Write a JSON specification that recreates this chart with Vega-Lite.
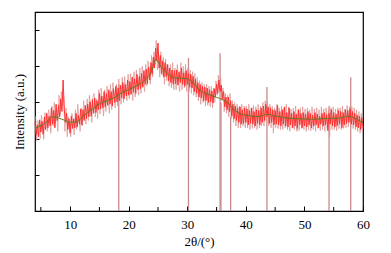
{
  "$schema": "https://vega.github.io/schema/vega-lite/v6.json",
  "width": 328,
  "height": 199,
  "autosize": "none",
  "padding": {"left": 35, "top": 12, "right": 28, "bottom": 42},
  "background": "white",
  "config": {
    "view": {"stroke": "black", "strokeWidth": 1.2},
    "font": "Liberation Serif",
    "axis": {"labelFont": "Liberation Serif", "titleFont": "Liberation Serif", "grid": false, "domain": false, "tickColor": "black", "labelColor": "black", "titleColor": "black", "titleFontWeight": "normal"}
  },
  "datasets": {
    "red": [
      {"t":4.0,"i":2.45},{"t":4.2,"i":2.10},{"t":4.4,"i":2.38},{"t":4.6,"i":2.05},{"t":4.8,"i":2.52},
      {"t":5.0,"i":2.18},{"t":5.2,"i":2.48},{"t":5.4,"i":2.12},{"t":5.6,"i":2.60},{"t":5.8,"i":2.25},
      {"t":6.0,"i":2.70},{"t":6.2,"i":2.30},{"t":6.4,"i":2.62},{"t":6.6,"i":2.35},{"t":6.8,"i":2.85},
      {"t":7.0,"i":2.40},{"t":7.2,"i":2.78},{"t":7.4,"i":2.30},{"t":7.6,"i":2.95},{"t":7.8,"i":2.50},
      {"t":8.0,"i":2.92},{"t":8.2,"i":2.60},{"t":8.4,"i":3.10},{"t":8.6,"i":2.75},{"t":8.8,"i":3.62},
      {"t":9.0,"i":2.80},{"t":9.2,"i":2.45},{"t":9.4,"i":2.70},{"t":9.6,"i":2.25},{"t":9.8,"i":2.55},
      {"t":10.0,"i":2.15},{"t":10.2,"i":2.62},{"t":10.4,"i":2.28},{"t":10.6,"i":2.55},{"t":10.8,"i":2.30},
      {"t":11.0,"i":2.70},{"t":11.2,"i":2.32},{"t":11.4,"i":2.65},{"t":11.6,"i":2.40},{"t":11.8,"i":2.82},
      {"t":12.0,"i":2.38},{"t":12.2,"i":2.80},{"t":12.4,"i":2.50},{"t":12.6,"i":2.92},{"t":12.8,"i":2.55},
      {"t":13.0,"i":2.95},{"t":13.2,"i":2.60},{"t":13.4,"i":3.02},{"t":13.6,"i":2.62},{"t":13.8,"i":3.08},
      {"t":14.0,"i":2.70},{"t":14.2,"i":3.12},{"t":14.4,"i":2.72},{"t":14.6,"i":3.05},{"t":14.8,"i":2.80},
      {"t":15.0,"i":3.25},{"t":15.2,"i":2.82},{"t":15.4,"i":3.18},{"t":15.6,"i":2.85},{"t":15.8,"i":3.30},
      {"t":16.0,"i":2.88},{"t":16.2,"i":3.25},{"t":16.4,"i":2.92},{"t":16.6,"i":3.35},{"t":16.8,"i":2.95},
      {"t":17.0,"i":3.30},{"t":17.2,"i":2.90},{"t":17.4,"i":3.38},{"t":17.6,"i":3.00},{"t":17.8,"i":3.45},
      {"t":18.0,"i":3.02},{"t":18.2,"i":3.40},{"t":18.4,"i":3.05},{"t":18.6,"i":3.48},{"t":18.8,"i":3.12},
      {"t":19.0,"i":3.55},{"t":19.2,"i":3.10},{"t":19.4,"i":3.50},{"t":19.6,"i":3.18},{"t":19.8,"i":3.62},
      {"t":20.0,"i":3.20},{"t":20.2,"i":3.58},{"t":20.4,"i":3.22},{"t":20.6,"i":3.70},{"t":20.8,"i":3.28},
      {"t":21.0,"i":3.65},{"t":21.2,"i":3.25},{"t":21.4,"i":3.78},{"t":21.6,"i":3.35},{"t":21.8,"i":3.72},
      {"t":22.0,"i":3.38},{"t":22.2,"i":3.80},{"t":22.4,"i":3.42},{"t":22.6,"i":3.88},{"t":22.8,"i":3.50},
      {"t":23.0,"i":3.92},{"t":23.2,"i":3.52},{"t":23.4,"i":3.98},{"t":23.6,"i":3.62},{"t":23.8,"i":4.10},
      {"t":24.0,"i":3.78},{"t":24.2,"i":4.25},{"t":24.4,"i":3.95},{"t":24.6,"i":4.50},{"t":24.8,"i":4.15},
      {"t":25.0,"i":4.64},{"t":25.2,"i":3.95},{"t":25.4,"i":4.30},{"t":25.6,"i":3.80},{"t":25.8,"i":4.15},
      {"t":26.0,"i":3.70},{"t":26.2,"i":4.10},{"t":26.4,"i":3.72},{"t":26.6,"i":4.05},{"t":26.8,"i":3.60},
      {"t":27.0,"i":3.95},{"t":27.2,"i":3.55},{"t":27.4,"i":3.90},{"t":27.6,"i":3.50},{"t":27.8,"i":3.88},
      {"t":28.0,"i":3.52},{"t":28.2,"i":3.90},{"t":28.4,"i":3.48},{"t":28.6,"i":3.85},{"t":28.8,"i":3.55},
      {"t":29.0,"i":3.95},{"t":29.2,"i":3.50},{"t":29.4,"i":3.82},{"t":29.6,"i":3.45},{"t":29.8,"i":3.88},
      {"t":30.0,"i":3.50},{"t":30.2,"i":3.80},{"t":30.4,"i":3.42},{"t":30.6,"i":3.78},{"t":30.8,"i":3.40},
      {"t":31.0,"i":3.72},{"t":31.2,"i":3.30},{"t":31.4,"i":3.65},{"t":31.6,"i":3.25},{"t":31.8,"i":3.55},
      {"t":32.0,"i":3.15},{"t":32.2,"i":3.50},{"t":32.4,"i":3.12},{"t":32.6,"i":3.45},{"t":32.8,"i":3.05},
      {"t":33.0,"i":3.42},{"t":33.2,"i":3.05},{"t":33.4,"i":3.40},{"t":33.6,"i":3.00},{"t":33.8,"i":3.35},
      {"t":34.0,"i":3.02},{"t":34.2,"i":3.32},{"t":34.4,"i":2.98},{"t":34.6,"i":3.38},{"t":34.8,"i":3.15},
      {"t":35.0,"i":3.50},{"t":35.2,"i":3.25},{"t":35.4,"i":3.62},{"t":35.6,"i":3.30},{"t":35.8,"i":3.48},
      {"t":36.0,"i":3.10},{"t":36.2,"i":3.30},{"t":36.4,"i":2.88},{"t":36.6,"i":3.15},{"t":36.8,"i":2.80},
      {"t":37.0,"i":3.15},{"t":37.2,"i":2.75},{"t":37.4,"i":3.05},{"t":37.6,"i":2.62},{"t":37.8,"i":2.95},
      {"t":38.0,"i":2.55},{"t":38.2,"i":2.90},{"t":38.4,"i":2.50},{"t":38.6,"i":2.85},{"t":38.8,"i":2.45},
      {"t":39.0,"i":2.88},{"t":39.2,"i":2.40},{"t":39.4,"i":2.80},{"t":39.6,"i":2.42},{"t":39.8,"i":2.85},
      {"t":40.0,"i":2.45},{"t":40.2,"i":2.82},{"t":40.4,"i":2.38},{"t":40.6,"i":2.78},{"t":40.8,"i":2.42},
      {"t":41.0,"i":2.85},{"t":41.2,"i":2.40},{"t":41.4,"i":2.75},{"t":41.6,"i":2.35},{"t":41.8,"i":2.80},
      {"t":42.0,"i":2.42},{"t":42.2,"i":2.78},{"t":42.4,"i":2.38},{"t":42.6,"i":2.85},{"t":42.8,"i":2.45},
      {"t":43.0,"i":2.90},{"t":43.2,"i":2.50},{"t":43.4,"i":2.95},{"t":43.6,"i":2.60},{"t":43.8,"i":2.88},
      {"t":44.0,"i":2.42},{"t":44.2,"i":2.85},{"t":44.4,"i":2.45},{"t":44.6,"i":2.80},{"t":44.8,"i":2.38},
      {"t":45.0,"i":2.78},{"t":45.2,"i":2.40},{"t":45.4,"i":2.92},{"t":45.6,"i":2.38},{"t":45.8,"i":2.75},
      {"t":46.0,"i":2.35},{"t":46.2,"i":2.80},{"t":46.4,"i":2.40},{"t":46.6,"i":2.88},{"t":46.8,"i":2.35},
      {"t":47.0,"i":2.72},{"t":47.2,"i":2.32},{"t":47.4,"i":2.85},{"t":47.6,"i":2.38},{"t":47.8,"i":2.70},
      {"t":48.0,"i":2.30},{"t":48.2,"i":2.75},{"t":48.4,"i":2.35},{"t":48.6,"i":2.68},{"t":48.8,"i":2.28},
      {"t":49.0,"i":2.80},{"t":49.2,"i":2.38},{"t":49.4,"i":2.70},{"t":49.6,"i":2.30},{"t":49.8,"i":2.72},
      {"t":50.0,"i":2.35},{"t":50.2,"i":2.68},{"t":50.4,"i":2.32},{"t":50.6,"i":2.75},{"t":50.8,"i":2.38},
      {"t":51.0,"i":2.70},{"t":51.2,"i":2.30},{"t":51.4,"i":2.65},{"t":51.6,"i":2.35},{"t":51.8,"i":2.72},
      {"t":52.0,"i":2.38},{"t":52.2,"i":2.68},{"t":52.4,"i":2.30},{"t":52.6,"i":2.62},{"t":52.8,"i":2.40},
      {"t":53.0,"i":2.70},{"t":53.2,"i":2.35},{"t":53.4,"i":2.72},{"t":53.6,"i":2.38},{"t":53.8,"i":2.66},
      {"t":54.0,"i":2.22},{"t":54.2,"i":2.70},{"t":54.4,"i":2.40},{"t":54.6,"i":2.80},{"t":54.8,"i":2.36},
      {"t":55.0,"i":2.72},{"t":55.2,"i":2.32},{"t":55.4,"i":2.68},{"t":55.6,"i":2.36},{"t":55.8,"i":2.78},
      {"t":56.0,"i":2.40},{"t":56.2,"i":2.75},{"t":56.4,"i":2.30},{"t":56.6,"i":2.72},{"t":56.8,"i":2.38},
      {"t":57.0,"i":2.80},{"t":57.2,"i":2.42},{"t":57.4,"i":2.78},{"t":57.6,"i":2.45},{"t":57.8,"i":2.82},
      {"t":58.0,"i":2.40},{"t":58.2,"i":2.75},{"t":58.4,"i":2.38},{"t":58.6,"i":2.70},{"t":58.8,"i":2.32},
      {"t":59.0,"i":2.65},{"t":59.2,"i":2.30},{"t":59.4,"i":2.62},{"t":59.6,"i":2.25},{"t":59.8,"i":2.58},
      {"t":60.0,"i":2.30}
    ],
    "pink": [
      {"t":4.1,"i":2.62},{"t":4.3,"i":1.95},{"t":4.5,"i":2.50},{"t":4.7,"i":2.20},{"t":4.9,"i":2.00},
      {"t":5.1,"i":2.65},{"t":5.3,"i":2.30},{"t":5.5,"i":1.98},{"t":5.7,"i":2.72},{"t":5.9,"i":2.45},
      {"t":6.1,"i":2.20},{"t":6.3,"i":2.80},{"t":6.5,"i":2.55},{"t":6.7,"i":2.15},{"t":6.9,"i":2.90},
      {"t":7.1,"i":2.35},{"t":7.3,"i":3.00},{"t":7.5,"i":2.42},{"t":7.7,"i":2.70},{"t":7.9,"i":2.20},
      {"t":8.1,"i":3.20},{"t":8.3,"i":2.65},{"t":8.5,"i":3.30},{"t":8.7,"i":2.90},{"t":8.9,"i":3.15},
      {"t":9.1,"i":2.20},{"t":9.3,"i":2.85},{"t":9.5,"i":2.05},{"t":9.7,"i":2.60},{"t":9.9,"i":2.30},
      {"t":10.1,"i":2.05},{"t":10.3,"i":2.70},{"t":10.5,"i":2.40},{"t":10.7,"i":2.10},{"t":10.9,"i":2.80},
      {"t":11.1,"i":2.25},{"t":11.3,"i":2.95},{"t":11.5,"i":2.55},{"t":11.7,"i":2.20},{"t":11.9,"i":2.85},
      {"t":12.1,"i":2.35},{"t":12.3,"i":3.05},{"t":12.5,"i":2.70},{"t":12.7,"i":2.40},{"t":12.9,"i":3.10},
      {"t":13.1,"i":2.50},{"t":13.3,"i":3.20},{"t":13.5,"i":2.85},{"t":13.7,"i":2.45},{"t":13.9,"i":3.15},
      {"t":14.1,"i":3.25},{"t":14.3,"i":2.60},{"t":14.5,"i":3.10},{"t":14.7,"i":2.55},{"t":14.9,"i":3.35},
      {"t":15.1,"i":2.68},{"t":15.3,"i":3.40},{"t":15.5,"i":2.95},{"t":15.7,"i":2.62},{"t":15.9,"i":3.35},
      {"t":16.1,"i":2.75},{"t":16.3,"i":3.45},{"t":16.5,"i":3.10},{"t":16.7,"i":2.70},{"t":16.9,"i":3.50},
      {"t":17.1,"i":2.80},{"t":17.3,"i":3.55},{"t":17.5,"i":3.20},{"t":17.7,"i":2.85},{"t":17.9,"i":3.50},
      {"t":18.1,"i":2.90},{"t":18.3,"i":3.65},{"t":18.5,"i":3.25},{"t":18.7,"i":2.95},{"t":18.9,"i":3.70},
      {"t":19.1,"i":3.00},{"t":19.3,"i":3.72},{"t":19.5,"i":3.30},{"t":19.7,"i":3.05},{"t":19.9,"i":3.78},
      {"t":20.1,"i":3.10},{"t":20.3,"i":3.80},{"t":20.5,"i":3.45},{"t":20.7,"i":3.05},{"t":20.9,"i":3.85},
      {"t":21.1,"i":3.15},{"t":21.3,"i":3.90},{"t":21.5,"i":3.50},{"t":21.7,"i":3.20},{"t":21.9,"i":3.95},
      {"t":22.1,"i":3.25},{"t":22.3,"i":4.00},{"t":22.5,"i":3.62},{"t":22.7,"i":3.30},{"t":22.9,"i":4.05},
      {"t":23.1,"i":3.45},{"t":23.3,"i":4.15},{"t":23.5,"i":3.80},{"t":23.7,"i":3.50},{"t":23.9,"i":4.30},
      {"t":24.1,"i":3.70},{"t":24.3,"i":4.40},{"t":24.5,"i":4.05},{"t":24.7,"i":4.72},{"t":24.9,"i":3.90},
      {"t":25.1,"i":4.35},{"t":25.3,"i":3.70},{"t":25.5,"i":4.40},{"t":25.7,"i":3.75},{"t":25.9,"i":4.25},
      {"t":26.1,"i":3.50},{"t":26.3,"i":4.20},{"t":26.5,"i":3.60},{"t":26.7,"i":4.05},{"t":26.9,"i":3.45},
      {"t":27.1,"i":4.05},{"t":27.3,"i":3.40},{"t":27.5,"i":4.10},{"t":27.7,"i":3.35},{"t":27.9,"i":3.95},
      {"t":28.1,"i":3.35},{"t":28.3,"i":4.05},{"t":28.5,"i":3.55},{"t":28.7,"i":3.30},{"t":28.9,"i":4.10},
      {"t":29.1,"i":3.35},{"t":29.3,"i":4.00},{"t":29.5,"i":3.40},{"t":29.7,"i":4.05},{"t":29.9,"i":3.30},
      {"t":30.1,"i":3.95},{"t":30.3,"i":3.30},{"t":30.5,"i":3.90},{"t":30.7,"i":3.25},{"t":30.9,"i":3.85},
      {"t":31.1,"i":3.20},{"t":31.3,"i":3.80},{"t":31.5,"i":3.15},{"t":31.7,"i":3.70},{"t":31.9,"i":3.05},
      {"t":32.1,"i":3.60},{"t":32.3,"i":2.95},{"t":32.5,"i":3.55},{"t":32.7,"i":3.00},{"t":32.9,"i":3.50},
      {"t":33.1,"i":2.90},{"t":33.3,"i":3.50},{"t":33.5,"i":2.92},{"t":33.7,"i":3.45},{"t":33.9,"i":2.88},
      {"t":34.1,"i":3.45},{"t":34.3,"i":2.85},{"t":34.5,"i":3.40},{"t":34.7,"i":3.00},{"t":34.9,"i":3.60},
      {"t":35.1,"i":3.20},{"t":35.3,"i":3.75},{"t":35.5,"i":3.35},{"t":35.7,"i":3.70},{"t":35.9,"i":3.05},
      {"t":36.1,"i":3.40},{"t":36.3,"i":2.75},{"t":36.5,"i":3.25},{"t":36.7,"i":2.70},{"t":36.9,"i":3.20},
      {"t":37.1,"i":2.60},{"t":37.3,"i":3.25},{"t":37.5,"i":2.55},{"t":37.7,"i":3.05},{"t":37.9,"i":2.45},
      {"t":38.1,"i":3.00},{"t":38.3,"i":2.35},{"t":38.5,"i":2.95},{"t":38.7,"i":2.30},{"t":38.9,"i":2.90},
      {"t":39.1,"i":2.30},{"t":39.3,"i":2.95},{"t":39.5,"i":2.35},{"t":39.7,"i":2.90},{"t":39.9,"i":2.30},
      {"t":40.1,"i":2.90},{"t":40.3,"i":2.30},{"t":40.5,"i":2.95},{"t":40.7,"i":2.25},{"t":40.9,"i":2.85},
      {"t":41.1,"i":2.28},{"t":41.3,"i":2.92},{"t":41.5,"i":2.30},{"t":41.7,"i":2.88},{"t":41.9,"i":2.25},
      {"t":42.1,"i":2.95},{"t":42.3,"i":2.30},{"t":42.5,"i":2.90},{"t":42.7,"i":2.35},{"t":42.9,"i":3.00},
      {"t":43.1,"i":2.35},{"t":43.3,"i":3.05},{"t":43.5,"i":2.45},{"t":43.7,"i":3.00},{"t":43.9,"i":2.35},
      {"t":44.1,"i":2.95},{"t":44.3,"i":2.30},{"t":44.5,"i":2.90},{"t":44.7,"i":2.15},{"t":44.9,"i":2.85},
      {"t":45.1,"i":2.30},{"t":45.3,"i":2.95},{"t":45.5,"i":2.28},{"t":45.7,"i":2.85},{"t":45.9,"i":2.25},
      {"t":46.1,"i":2.90},{"t":46.3,"i":2.25},{"t":46.5,"i":2.85},{"t":46.7,"i":2.30},{"t":46.9,"i":2.95},
      {"t":47.1,"i":2.25},{"t":47.3,"i":2.88},{"t":47.5,"i":2.20},{"t":47.7,"i":2.82},{"t":47.9,"i":2.28},
      {"t":48.1,"i":2.85},{"t":48.3,"i":2.25},{"t":48.5,"i":2.90},{"t":48.7,"i":2.20},{"t":48.9,"i":2.80},
      {"t":49.1,"i":2.22},{"t":49.3,"i":2.85},{"t":49.5,"i":2.28},{"t":49.7,"i":2.88},{"t":49.9,"i":2.25},
      {"t":50.1,"i":2.82},{"t":50.3,"i":2.20},{"t":50.5,"i":2.85},{"t":50.7,"i":2.25},{"t":50.9,"i":2.80},
      {"t":51.1,"i":2.22},{"t":51.3,"i":2.88},{"t":51.5,"i":2.25},{"t":51.7,"i":2.82},{"t":51.9,"i":2.20},
      {"t":52.1,"i":2.85},{"t":52.3,"i":2.28},{"t":52.5,"i":2.80},{"t":52.7,"i":2.22},{"t":52.9,"i":2.88},
      {"t":53.1,"i":2.25},{"t":53.3,"i":2.82},{"t":53.5,"i":2.20},{"t":53.7,"i":2.85},{"t":53.9,"i":2.28},
      {"t":54.1,"i":2.80},{"t":54.3,"i":2.05},{"t":54.5,"i":2.85},{"t":54.7,"i":2.25},{"t":54.9,"i":2.88},
      {"t":55.1,"i":2.25},{"t":55.3,"i":2.82},{"t":55.5,"i":2.22},{"t":55.7,"i":2.85},{"t":55.9,"i":2.28},
      {"t":56.1,"i":2.85},{"t":56.3,"i":2.25},{"t":56.5,"i":2.90},{"t":56.7,"i":2.28},{"t":56.9,"i":2.82},
      {"t":57.1,"i":2.30},{"t":57.3,"i":2.92},{"t":57.5,"i":2.32},{"t":57.7,"i":2.88},{"t":57.9,"i":2.30},
      {"t":58.1,"i":2.88},{"t":58.3,"i":2.28},{"t":58.5,"i":2.85},{"t":58.7,"i":2.25},{"t":58.9,"i":2.80},
      {"t":59.1,"i":2.20},{"t":59.3,"i":2.75},{"t":59.5,"i":2.15},{"t":59.7,"i":2.70},{"t":59.9,"i":2.18}
    ],
    "smooth": [
      {"t":4.0,"i":2.29},{"t":5.0,"i":2.36},{"t":6.0,"i":2.47},{"t":7.0,"i":2.60},{"t":8.0,"i":2.57},
      {"t":9.0,"i":2.51},{"t":10.0,"i":2.45},{"t":11.0,"i":2.46},{"t":12.0,"i":2.58},{"t":13.0,"i":2.72},
      {"t":14.0,"i":2.84},{"t":15.0,"i":2.96},{"t":16.0,"i":3.03},{"t":17.0,"i":3.09},{"t":18.0,"i":3.18},
      {"t":19.0,"i":3.29},{"t":20.0,"i":3.35},{"t":21.0,"i":3.43},{"t":22.0,"i":3.52},{"t":23.0,"i":3.66},
      {"t":24.0,"i":3.90},{"t":24.6,"i":4.20},{"t":25.0,"i":4.12},{"t":25.5,"i":4.00},{"t":26.0,"i":3.90},
      {"t":27.0,"i":3.74},{"t":28.0,"i":3.68},{"t":29.0,"i":3.67},{"t":30.0,"i":3.65},{"t":31.0,"i":3.55},
      {"t":32.0,"i":3.36},{"t":33.0,"i":3.26},{"t":34.0,"i":3.20},{"t":35.0,"i":3.14},{"t":36.0,"i":3.08},
      {"t":37.0,"i":2.98},{"t":38.0,"i":2.80},{"t":39.0,"i":2.69},{"t":40.0,"i":2.65},{"t":41.0,"i":2.62},
      {"t":42.0,"i":2.61},{"t":43.0,"i":2.64},{"t":43.6,"i":2.68},{"t":44.5,"i":2.64},{"t":45.0,"i":2.62},
      {"t":46.0,"i":2.60},{"t":47.0,"i":2.57},{"t":48.0,"i":2.56},{"t":50.0,"i":2.54},{"t":52.0,"i":2.54},
      {"t":54.0,"i":2.56},{"t":56.0,"i":2.57},{"t":57.5,"i":2.62},{"t":58.5,"i":2.57},{"t":59.3,"i":2.50},
      {"t":60.0,"i":2.44}
    ],
    "sticks": [
      {"t":18.3,"h":3.5},{"t":30.2,"h":4.23},{"t":35.6,"h":4.36},{"t":35.75,"h":3.0},
      {"t":37.4,"h":2.6},{"t":43.6,"h":3.43},{"t":54.2,"h":2.9},{"t":57.9,"h":3.7}
    ],
    "minor": [
      {"m":5},{"m":15},{"m":25},{"m":35},{"m":45},{"m":55}
    ]
  },
  "layer": [
    {
      "data": {"name": "sticks"},
      "mark": {"type": "rule", "color": "#c98a8a", "strokeWidth": 1.3},
      "encoding": {
        "x": {"field": "t", "type": "quantitative", "scale": {"domain": [4, 60], "nice": false, "zero": false},
          "axis": {"values": [10,20,30,40,50,60], "format": "d", "labelOverlap": false, "labelFlush": false, "tickSize": -5, "tickWidth": 1, "labelPadding": 12, "labelFontSize": 13, "title": "2θ/(°)", "titleFontSize": 13, "titlePadding": 4}},
        "y": {"field": "h", "type": "quantitative", "scale": {"domain": [0, 5.5], "nice": false},
          "axis": {"values": [1,2,3,4,5], "labels": false, "tickSize": -4, "title": "Intensity (a.u.)", "titleFontSize": 13, "titlePadding": 8}},
        "y2": {"datum": 0}
      }
    },
    {
      "data": {"name": "minor"},
      "mark": {"type": "rule", "color": "black", "strokeWidth": 1},
      "encoding": {
        "x": {"field": "m", "type": "quantitative"},
        "y": {"datum": 0},
        "y2": {"datum": 0.11}
      }
    },
    {
      "data": {"name": "pink"},
      "mark": {"type": "line", "color": "#dc8f8f", "strokeWidth": 0.7},
      "encoding": {
        "x": {"field": "t", "type": "quantitative"},
        "y": {"field": "i", "type": "quantitative"}
      }
    },
    {
      "data": {"name": "red"},
      "mark": {"type": "line", "color": "#ff3030", "strokeWidth": 1},
      "encoding": {
        "x": {"field": "t", "type": "quantitative"},
        "y": {"field": "i", "type": "quantitative"}
      }
    },
    {
      "data": {"name": "smooth"},
      "mark": {"type": "line", "color": "#5f7a1e", "strokeWidth": 1, "interpolate": "monotone"},
      "encoding": {
        "x": {"field": "t", "type": "quantitative"},
        "y": {"field": "i", "type": "quantitative"}
      }
    }
  ]
}
